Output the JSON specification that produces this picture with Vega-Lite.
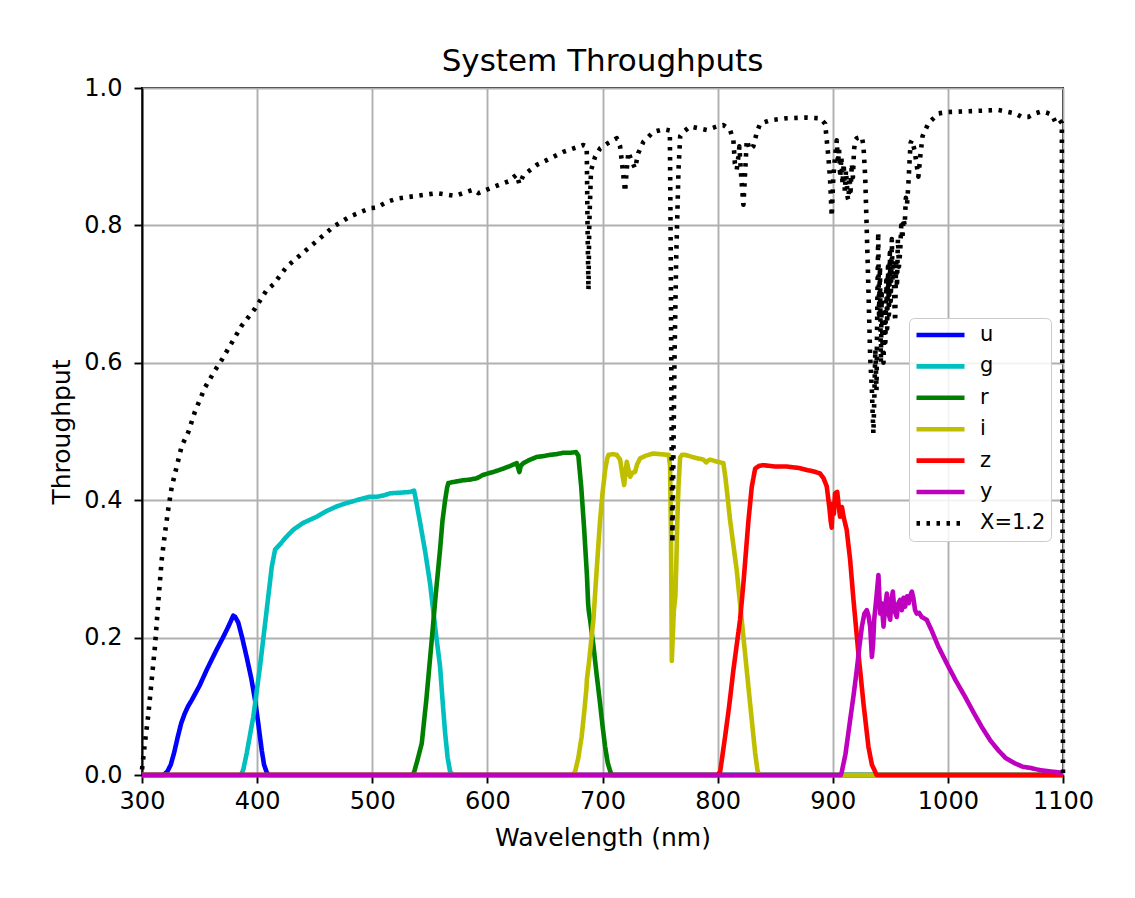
{
  "$schema": "https://vega.github.io/schema/vega-lite/v6.json",
  "width": 921,
  "height": 687,
  "autosize": {"type": "none"},
  "padding": {"left": 142, "top": 88, "right": 72, "bottom": 123},
  "background": "white",
  "title": {"text": "System Throughputs", "fontSize": 31, "font": "DejaVu Sans", "fontWeight": "normal", "color": "black", "anchor": "middle", "offset": -2},
  "config": {
    "view": {"stroke": "black", "strokeWidth": 1.9},
    "font": "DejaVu Sans",
    "axis": {
      "gridColor": "#b0b0b0", "gridWidth": 1.9, "gridOpacity": 1,
      "domainColor": "black", "domainWidth": 1.9,
      "tickColor": "black", "tickWidth": 1.9, "tickSize": 8,
      "labelFont": "DejaVu Sans", "labelFontSize": 24, "labelColor": "black", "labelFlush": false, "labelOverlap": false,
      "titleFont": "DejaVu Sans", "titleFontSize": 25, "titleFontWeight": "normal", "titleColor": "black"
    }
  },
  "data": {"values": [
    {"band":"u","wl":300,"t":0},{"band":"u","wl":318.5,"t":0},{"band":"u","wl":322,"t":0.005},{"band":"u","wl":325,"t":0.015},{"band":"u","wl":328,"t":0.033},{"band":"u","wl":331,"t":0.055},{"band":"u","wl":334,"t":0.075},{"band":"u","wl":337,"t":0.089},{"band":"u","wl":340,"t":0.1},{"band":"u","wl":343.2,"t":0.109},{"band":"u","wl":350,"t":0.13},{"band":"u","wl":356.2,"t":0.153},{"band":"u","wl":360,"t":0.166},{"band":"u","wl":365,"t":0.183},{"band":"u","wl":370.6,"t":0.201},{"band":"u","wl":375,"t":0.216},{"band":"u","wl":379.3,"t":0.232},{"band":"u","wl":381,"t":0.23},{"band":"u","wl":383.6,"t":0.222},{"band":"u","wl":387,"t":0.2},{"band":"u","wl":391,"t":0.171},{"band":"u","wl":395,"t":0.14},{"band":"u","wl":398.2,"t":0.109},{"band":"u","wl":401,"t":0.075},{"band":"u","wl":404,"t":0.036},{"band":"u","wl":406,"t":0.015},{"band":"u","wl":408.3,"t":0.004},{"band":"u","wl":410,"t":0},{"band":"u","wl":1100,"t":0},

    {"band":"g","wl":300,"t":0},{"band":"g","wl":386,"t":0},{"band":"g","wl":388,"t":0.008},{"band":"g","wl":391,"t":0.032},{"band":"g","wl":396.7,"t":0.085},{"band":"g","wl":402.5,"t":0.158},{"band":"g","wl":408.3,"t":0.24},{"band":"g","wl":412.7,"t":0.303},{"band":"g","wl":415.6,"t":0.328},{"band":"g","wl":420,"t":0.336},{"band":"g","wl":425,"t":0.346},{"band":"g","wl":431.4,"t":0.357},{"band":"g","wl":440,"t":0.367},{"band":"g","wl":451.8,"t":0.376},{"band":"g","wl":460,"t":0.384},{"band":"g","wl":469.2,"t":0.391},{"band":"g","wl":478,"t":0.396},{"band":"g","wl":486.5,"t":0.4},{"band":"g","wl":498,"t":0.405},{"band":"g","wl":504,"t":0.405},{"band":"g","wl":510,"t":0.407},{"band":"g","wl":515.5,"t":0.41},{"band":"g","wl":525,"t":0.411},{"band":"g","wl":532.8,"t":0.412},{"band":"g","wl":536.3,"t":0.414},{"band":"g","wl":538,"t":0.4},{"band":"g","wl":541.5,"t":0.368},{"band":"g","wl":546,"t":0.325},{"band":"g","wl":550.2,"t":0.279},{"band":"g","wl":555,"t":0.21},{"band":"g","wl":558.9,"t":0.158},{"band":"g","wl":561,"t":0.11},{"band":"g","wl":563.3,"t":0.061},{"band":"g","wl":565.5,"t":0.025},{"band":"g","wl":567.6,"t":0.005},{"band":"g","wl":570,"t":0},{"band":"g","wl":1100,"t":0},

    {"band":"r","wl":300,"t":0},{"band":"r","wl":535,"t":0},{"band":"r","wl":536.5,"t":0.005},{"band":"r","wl":539,"t":0.02},{"band":"r","wl":543,"t":0.046},{"band":"r","wl":547,"t":0.11},{"band":"r","wl":551.7,"t":0.197},{"band":"r","wl":555,"t":0.26},{"band":"r","wl":558.9,"t":0.328},{"band":"r","wl":561,"t":0.37},{"band":"r","wl":563.3,"t":0.4},{"band":"r","wl":565,"t":0.418},{"band":"r","wl":566.1,"t":0.425},{"band":"r","wl":572,"t":0.427},{"band":"r","wl":579,"t":0.429},{"band":"r","wl":585,"t":0.43},{"band":"r","wl":590.8,"t":0.432},{"band":"r","wl":596.5,"t":0.437},{"band":"r","wl":605,"t":0.441},{"band":"r","wl":613.9,"t":0.446},{"band":"r","wl":620,"t":0.45},{"band":"r","wl":625.5,"t":0.454},{"band":"r","wl":627.8,"t":0.441},{"band":"r","wl":629,"t":0.45},{"band":"r","wl":631.3,"t":0.454},{"band":"r","wl":637,"t":0.459},{"band":"r","wl":642.9,"t":0.463},{"band":"r","wl":648,"t":0.464},{"band":"r","wl":654.5,"t":0.466},{"band":"r","wl":660,"t":0.467},{"band":"r","wl":666,"t":0.469},{"band":"r","wl":672,"t":0.469},{"band":"r","wl":677,"t":0.47},{"band":"r","wl":679,"t":0.465},{"band":"r","wl":681.5,"t":0.42},{"band":"r","wl":684,"t":0.36},{"band":"r","wl":686.5,"t":0.29},{"band":"r","wl":687.5,"t":0.25},{"band":"r","wl":688,"t":0.24},{"band":"r","wl":689.2,"t":0.226},{"band":"r","wl":692,"t":0.19},{"band":"r","wl":695,"t":0.145},{"band":"r","wl":697.9,"t":0.104},{"band":"r","wl":700,"t":0.072},{"band":"r","wl":702.3,"t":0.041},{"band":"r","wl":704.5,"t":0.018},{"band":"r","wl":706.6,"t":0.006},{"band":"r","wl":708,"t":0},{"band":"r","wl":1100,"t":0},

    {"band":"i","wl":300,"t":0},{"band":"i","wl":674,"t":0},{"band":"i","wl":676.2,"t":0.005},{"band":"i","wl":679,"t":0.025},{"band":"i","wl":681.9,"t":0.056},{"band":"i","wl":684,"t":0.09},{"band":"i","wl":686,"t":0.125},{"band":"i","wl":686.5,"t":0.14},{"band":"i","wl":688,"t":0.16},{"band":"i","wl":692.1,"t":0.226},{"band":"i","wl":695,"t":0.3},{"band":"i","wl":697.9,"t":0.371},{"band":"i","wl":700,"t":0.41},{"band":"i","wl":702.3,"t":0.444},{"band":"i","wl":704,"t":0.46},{"band":"i","wl":705.2,"t":0.466},{"band":"i","wl":709,"t":0.467},{"band":"i","wl":712.4,"t":0.466},{"band":"i","wl":715.3,"t":0.459},{"band":"i","wl":717,"t":0.44},{"band":"i","wl":718.8,"t":0.422},{"band":"i","wl":720,"t":0.44},{"band":"i","wl":721.1,"t":0.456},{"band":"i","wl":722.5,"t":0.445},{"band":"i","wl":724,"t":0.434},{"band":"i","wl":726,"t":0.44},{"band":"i","wl":728.3,"t":0.441},{"band":"i","wl":730,"t":0.452},{"band":"i","wl":732.7,"t":0.461},{"band":"i","wl":738,"t":0.465},{"band":"i","wl":744.2,"t":0.468},{"band":"i","wl":750,"t":0.467},{"band":"i","wl":757.5,"t":0.466},{"band":"i","wl":758.7,"t":0.45},{"band":"i","wl":759.5,"t":0.35},{"band":"i","wl":760.2,"t":0.166},{"band":"i","wl":761,"t":0.2},{"band":"i","wl":762,"t":0.24},{"band":"i","wl":763.3,"t":0.26},{"band":"i","wl":764,"t":0.3},{"band":"i","wl":765,"t":0.37},{"band":"i","wl":766,"t":0.42},{"band":"i","wl":767.4,"t":0.462},{"band":"i","wl":769,"t":0.466},{"band":"i","wl":771.8,"t":0.466},{"band":"i","wl":780,"t":0.462},{"band":"i","wl":787.7,"t":0.459},{"band":"i","wl":790,"t":0.455},{"band":"i","wl":792,"t":0.458},{"band":"i","wl":793.5,"t":0.459},{"band":"i","wl":800,"t":0.456},{"band":"i","wl":805,"t":0.454},{"band":"i","wl":807,"t":0.43},{"band":"i","wl":810.8,"t":0.371},{"band":"i","wl":816.6,"t":0.298},{"band":"i","wl":822.4,"t":0.201},{"band":"i","wl":828.2,"t":0.104},{"band":"i","wl":832.6,"t":0.032},{"band":"i","wl":834.6,"t":0.007},{"band":"i","wl":836,"t":0},{"band":"i","wl":1100,"t":0},

    {"band":"z","wl":300,"t":0},{"band":"z","wl":800,"t":0},{"band":"z","wl":802.2,"t":0.005},{"band":"z","wl":806.5,"t":0.056},{"band":"z","wl":810,"t":0.1},{"band":"z","wl":813.7,"t":0.153},{"band":"z","wl":819.5,"t":0.226},{"band":"z","wl":822.4,"t":0.279},{"band":"z","wl":826.8,"t":0.371},{"band":"z","wl":829.7,"t":0.42},{"band":"z","wl":832.6,"t":0.446},{"band":"z","wl":836,"t":0.45},{"band":"z","wl":839.8,"t":0.451},{"band":"z","wl":850,"t":0.449},{"band":"z","wl":860.2,"t":0.449},{"band":"z","wl":870,"t":0.447},{"band":"z","wl":877.5,"t":0.444},{"band":"z","wl":883,"t":0.442},{"band":"z","wl":888.9,"t":0.439},{"band":"z","wl":892,"t":0.432},{"band":"z","wl":894.8,"t":0.42},{"band":"z","wl":897,"t":0.39},{"band":"z","wl":898.2,"t":0.37},{"band":"z","wl":899.1,"t":0.36},{"band":"z","wl":900,"t":0.395},{"band":"z","wl":901,"t":0.38},{"band":"z","wl":902,"t":0.41},{"band":"z","wl":903.9,"t":0.412},{"band":"z","wl":905,"t":0.395},{"band":"z","wl":906.3,"t":0.376},{"band":"z","wl":908,"t":0.39},{"band":"z","wl":909.5,"t":0.375},{"band":"z","wl":912.1,"t":0.357},{"band":"z","wl":915.1,"t":0.313},{"band":"z","wl":918,"t":0.255},{"band":"z","wl":922.3,"t":0.177},{"band":"z","wl":926.7,"t":0.104},{"band":"z","wl":931,"t":0.041},{"band":"z","wl":934,"t":0.015},{"band":"z","wl":936.8,"t":0.005},{"band":"z","wl":938,"t":0},{"band":"z","wl":1100,"t":0},

    {"band":"y","wl":300,"t":0},{"band":"y","wl":907,"t":0},{"band":"y","wl":907.9,"t":0.005},{"band":"y","wl":911,"t":0.03},{"band":"y","wl":915.1,"t":0.08},{"band":"y","wl":918,"t":0.115},{"band":"y","wl":920.9,"t":0.153},{"band":"y","wl":923,"t":0.185},{"band":"y","wl":925.3,"t":0.216},{"band":"y","wl":927.5,"t":0.235},{"band":"y","wl":929.6,"t":0.24},{"band":"y","wl":931,"t":0.232},{"band":"y","wl":932.5,"t":0.216},{"band":"y","wl":934,"t":0.172},{"band":"y","wl":935,"t":0.19},{"band":"y","wl":936,"t":0.226},{"band":"y","wl":938,"t":0.26},{"band":"y","wl":939.7,"t":0.291},{"band":"y","wl":940.5,"t":0.26},{"band":"y","wl":941.2,"t":0.235},{"band":"y","wl":942.5,"t":0.25},{"band":"y","wl":944.1,"t":0.216},{"band":"y","wl":945.5,"t":0.245},{"band":"y","wl":947,"t":0.264},{"band":"y","wl":948.5,"t":0.235},{"band":"y","wl":949.9,"t":0.226},{"band":"y","wl":951,"t":0.255},{"band":"y","wl":952.2,"t":0.267},{"band":"y","wl":953.5,"t":0.24},{"band":"y","wl":955.6,"t":0.23},{"band":"y","wl":957,"t":0.25},{"band":"y","wl":958.5,"t":0.255},{"band":"y","wl":960,"t":0.24},{"band":"y","wl":961.5,"t":0.258},{"band":"y","wl":962.9,"t":0.245},{"band":"y","wl":964.5,"t":0.26},{"band":"y","wl":966,"t":0.25},{"band":"y","wl":967.5,"t":0.262},{"band":"y","wl":968.7,"t":0.267},{"band":"y","wl":970,"t":0.258},{"band":"y","wl":971.5,"t":0.24},{"band":"y","wl":972.9,"t":0.235},{"band":"y","wl":975,"t":0.236},{"band":"y","wl":977.3,"t":0.23},{"band":"y","wl":981.6,"t":0.226},{"band":"y","wl":986,"t":0.21},{"band":"y","wl":991.7,"t":0.187},{"band":"y","wl":1000.4,"t":0.158},{"band":"y","wl":1007,"t":0.137},{"band":"y","wl":1014.9,"t":0.114},{"band":"y","wl":1022,"t":0.092},{"band":"y","wl":1029.4,"t":0.07},{"band":"y","wl":1037,"t":0.05},{"band":"y","wl":1043.8,"t":0.036},{"band":"y","wl":1050,"t":0.025},{"band":"y","wl":1058.3,"t":0.017},{"band":"y","wl":1065,"t":0.012},{"band":"y","wl":1072.8,"t":0.01},{"band":"y","wl":1080,"t":0.007},{"band":"y","wl":1090.2,"t":0.005},{"band":"y","wl":1100,"t":0.003},

    {"band":"X=1.2","wl":300,"t":0.008},{"band":"X=1.2","wl":302.6,"t":0.048},{"band":"X=1.2","wl":305.5,"t":0.088},{"band":"X=1.2","wl":308.4,"t":0.138},{"band":"X=1.2","wl":311.3,"t":0.188},{"band":"X=1.2","wl":314.2,"t":0.253},{"band":"X=1.2","wl":317.1,"t":0.313},{"band":"X=1.2","wl":320,"t":0.353},{"band":"X=1.2","wl":322.9,"t":0.388},{"band":"X=1.2","wl":325.8,"t":0.419},{"band":"X=1.2","wl":328.7,"t":0.439},{"band":"X=1.2","wl":334.5,"t":0.479},{"band":"X=1.2","wl":340.2,"t":0.499},{"band":"X=1.2","wl":346,"t":0.529},{"band":"X=1.2","wl":354.7,"t":0.564},{"band":"X=1.2","wl":363.4,"t":0.589},{"band":"X=1.2","wl":369.2,"t":0.604},{"band":"X=1.2","wl":377.9,"t":0.629},{"band":"X=1.2","wl":386.6,"t":0.654},{"band":"X=1.2","wl":398.2,"t":0.679},{"band":"X=1.2","wl":408.3,"t":0.706},{"band":"X=1.2","wl":414.1,"t":0.714},{"band":"X=1.2","wl":425.7,"t":0.74},{"band":"X=1.2","wl":446,"t":0.769},{"band":"X=1.2","wl":466.2,"t":0.798},{"band":"X=1.2","wl":480.7,"t":0.813},{"band":"X=1.2","wl":498.1,"t":0.825},{"band":"X=1.2","wl":503.9,"t":0.826},{"band":"X=1.2","wl":512.6,"t":0.834},{"band":"X=1.2","wl":521.3,"t":0.839},{"band":"X=1.2","wl":538.7,"t":0.843},{"band":"X=1.2","wl":556,"t":0.847},{"band":"X=1.2","wl":571.9,"t":0.843},{"band":"X=1.2","wl":587.8,"t":0.852},{"band":"X=1.2","wl":592.2,"t":0.847},{"band":"X=1.2","wl":602.3,"t":0.854},{"band":"X=1.2","wl":618.2,"t":0.864},{"band":"X=1.2","wl":625.5,"t":0.874},{"band":"X=1.2","wl":627.8,"t":0.86},{"band":"X=1.2","wl":631.3,"t":0.873},{"band":"X=1.2","wl":642.9,"t":0.888},{"band":"X=1.2","wl":651.6,"t":0.895},{"band":"X=1.2","wl":666,"t":0.907},{"band":"X=1.2","wl":683.4,"t":0.917},{"band":"X=1.2","wl":686.3,"t":0.915},{"band":"X=1.2","wl":687,"t":0.8},{"band":"X=1.2","wl":687.8,"t":0.706},{"band":"X=1.2","wl":688.5,"t":0.8},{"band":"X=1.2","wl":690,"t":0.88},{"band":"X=1.2","wl":693.6,"t":0.9},{"band":"X=1.2","wl":697.9,"t":0.912},{"band":"X=1.2","wl":705,"t":0.92},{"band":"X=1.2","wl":712.4,"t":0.927},{"band":"X=1.2","wl":715.3,"t":0.915},{"band":"X=1.2","wl":717,"t":0.89},{"band":"X=1.2","wl":719.6,"t":0.849},{"band":"X=1.2","wl":721,"t":0.88},{"band":"X=1.2","wl":722.5,"t":0.907},{"band":"X=1.2","wl":725,"t":0.895},{"band":"X=1.2","wl":728.3,"t":0.883},{"band":"X=1.2","wl":731,"t":0.905},{"band":"X=1.2","wl":735.6,"t":0.922},{"band":"X=1.2","wl":744.2,"t":0.936},{"band":"X=1.2","wl":752.9,"t":0.94},{"band":"X=1.2","wl":758.5,"t":0.938},{"band":"X=1.2","wl":759.3,"t":0.75},{"band":"X=1.2","wl":760,"t":0.5},{"band":"X=1.2","wl":760.7,"t":0.338},{"band":"X=1.2","wl":761.5,"t":0.45},{"band":"X=1.2","wl":762.5,"t":0.6},{"band":"X=1.2","wl":764,"t":0.75},{"band":"X=1.2","wl":766,"t":0.88},{"band":"X=1.2","wl":767.5,"t":0.93},{"band":"X=1.2","wl":770.3,"t":0.936},{"band":"X=1.2","wl":776.1,"t":0.944},{"band":"X=1.2","wl":790.6,"t":0.939},{"band":"X=1.2","wl":799.3,"t":0.944},{"band":"X=1.2","wl":805,"t":0.946},{"band":"X=1.2","wl":810.8,"t":0.939},{"band":"X=1.2","wl":813.7,"t":0.924},{"band":"X=1.2","wl":815,"t":0.89},{"band":"X=1.2","wl":816.6,"t":0.881},{"band":"X=1.2","wl":818,"t":0.9},{"band":"X=1.2","wl":818.9,"t":0.915},{"band":"X=1.2","wl":820.5,"t":0.87},{"band":"X=1.2","wl":822.4,"t":0.83},{"band":"X=1.2","wl":824,"t":0.88},{"band":"X=1.2","wl":825.3,"t":0.924},{"band":"X=1.2","wl":828,"t":0.91},{"band":"X=1.2","wl":831,"t":0.915},{"band":"X=1.2","wl":834,"t":0.935},{"band":"X=1.2","wl":836.9,"t":0.948},{"band":"X=1.2","wl":845.6,"t":0.953},{"band":"X=1.2","wl":860.1,"t":0.956},{"band":"X=1.2","wl":877.5,"t":0.957},{"band":"X=1.2","wl":889,"t":0.956},{"band":"X=1.2","wl":893.4,"t":0.948},{"band":"X=1.2","wl":894.8,"t":0.924},{"band":"X=1.2","wl":896.2,"t":0.9},{"band":"X=1.2","wl":897.7,"t":0.866},{"band":"X=1.2","wl":899.1,"t":0.813},{"band":"X=1.2","wl":900.5,"t":0.87},{"band":"X=1.2","wl":902,"t":0.9},{"band":"X=1.2","wl":903.5,"t":0.924},{"band":"X=1.2","wl":904.5,"t":0.89},{"band":"X=1.2","wl":905.5,"t":0.91},{"band":"X=1.2","wl":906.5,"t":0.87},{"band":"X=1.2","wl":907.5,"t":0.9},{"band":"X=1.2","wl":908.5,"t":0.86},{"band":"X=1.2","wl":909.5,"t":0.89},{"band":"X=1.2","wl":910.5,"t":0.85},{"band":"X=1.2","wl":911.5,"t":0.88},{"band":"X=1.2","wl":913,"t":0.84},{"band":"X=1.2","wl":913.7,"t":0.837},{"band":"X=1.2","wl":914.5,"t":0.87},{"band":"X=1.2","wl":915.5,"t":0.85},{"band":"X=1.2","wl":916.6,"t":0.89},{"band":"X=1.2","wl":917.5,"t":0.87},{"band":"X=1.2","wl":918.5,"t":0.91},{"band":"X=1.2","wl":919.5,"t":0.924},{"band":"X=1.2","wl":920.9,"t":0.927},{"band":"X=1.2","wl":925.3,"t":0.929},{"band":"X=1.2","wl":926.7,"t":0.915},{"band":"X=1.2","wl":928.2,"t":0.87},{"band":"X=1.2","wl":929.6,"t":0.79},{"band":"X=1.2","wl":931,"t":0.706},{"band":"X=1.2","wl":932.5,"t":0.609},{"band":"X=1.2","wl":934,"t":0.56},{"band":"X=1.2","wl":935.3,"t":0.497},{"band":"X=1.2","wl":936,"t":0.54},{"band":"X=1.2","wl":937,"t":0.62},{"band":"X=1.2","wl":938,"t":0.56},{"band":"X=1.2","wl":938.8,"t":0.7},{"band":"X=1.2","wl":939.5,"t":0.79},{"band":"X=1.2","wl":940.2,"t":0.67},{"band":"X=1.2","wl":941,"t":0.74},{"band":"X=1.2","wl":941.8,"t":0.6},{"band":"X=1.2","wl":942.5,"t":0.7},{"band":"X=1.2","wl":943.3,"t":0.62},{"band":"X=1.2","wl":944.1,"t":0.6},{"band":"X=1.2","wl":945,"t":0.68},{"band":"X=1.2","wl":945.7,"t":0.63},{"band":"X=1.2","wl":946.5,"t":0.72},{"band":"X=1.2","wl":947.3,"t":0.65},{"band":"X=1.2","wl":948,"t":0.74},{"band":"X=1.2","wl":948.8,"t":0.67},{"band":"X=1.2","wl":949.6,"t":0.76},{"band":"X=1.2","wl":950.4,"t":0.69},{"band":"X=1.2","wl":951.3,"t":0.78},{"band":"X=1.2","wl":952,"t":0.72},{"band":"X=1.2","wl":952.8,"t":0.75},{"band":"X=1.2","wl":953.5,"t":0.69},{"band":"X=1.2","wl":954.2,"t":0.66},{"band":"X=1.2","wl":955,"t":0.75},{"band":"X=1.2","wl":955.8,"t":0.71},{"band":"X=1.2","wl":956.6,"t":0.78},{"band":"X=1.2","wl":957.5,"t":0.74},{"band":"X=1.2","wl":958.5,"t":0.76},{"band":"X=1.2","wl":959.5,"t":0.8},{"band":"X=1.2","wl":960.5,"t":0.78},{"band":"X=1.2","wl":961.4,"t":0.81},{"band":"X=1.2","wl":962.5,"t":0.8},{"band":"X=1.2","wl":963.5,"t":0.84},{"band":"X=1.2","wl":964.5,"t":0.83},{"band":"X=1.2","wl":965.7,"t":0.86},{"band":"X=1.2","wl":966.6,"t":0.89},{"band":"X=1.2","wl":967.6,"t":0.92},{"band":"X=1.2","wl":968.7,"t":0.924},{"band":"X=1.2","wl":971,"t":0.91},{"band":"X=1.2","wl":974.4,"t":0.871},{"band":"X=1.2","wl":976,"t":0.9},{"band":"X=1.2","wl":978,"t":0.93},{"band":"X=1.2","wl":983.2,"t":0.949},{"band":"X=1.2","wl":991.9,"t":0.963},{"band":"X=1.2","wl":1000,"t":0.965},{"band":"X=1.2","wl":1015.1,"t":0.966},{"band":"X=1.2","wl":1030,"t":0.967},{"band":"X=1.2","wl":1043.9,"t":0.968},{"band":"X=1.2","wl":1050,"t":0.966},{"band":"X=1.2","wl":1058.4,"t":0.963},{"band":"X=1.2","wl":1064,"t":0.958},{"band":"X=1.2","wl":1070,"t":0.958},{"band":"X=1.2","wl":1076,"t":0.963},{"band":"X=1.2","wl":1081.6,"t":0.966},{"band":"X=1.2","wl":1086,"t":0.964},{"band":"X=1.2","wl":1090.3,"t":0.961},{"band":"X=1.2","wl":1093.2,"t":0.951},{"band":"X=1.2","wl":1096,"t":0.955},{"band":"X=1.2","wl":1099,"t":0.949},{"band":"X=1.2","wl":1100,"t":0}
  ]},
  "mark": {"type": "line", "strokeCap": "butt", "strokeJoin": "round"},
  "encoding": {
    "x": {"field": "wl", "type": "quantitative", "title": "Wavelength (nm)",
      "scale": {"domain": [300, 1100], "nice": false, "zero": false},
      "axis": {"values": [300, 400, 500, 600, 700, 800, 900, 1000, 1100], "format": "d", "labelPadding": 6, "titlePadding": 12, "grid": true}},
    "y": {"field": "t", "type": "quantitative", "title": "Throughput",
      "scale": {"domain": [0, 1], "nice": false},
      "axis": {"values": [0, 0.2, 0.4, 0.6, 0.8, 1.0], "format": ".1f", "labelPadding": 12, "titlePadding": 9, "grid": true}},
    "color": {"field": "band", "type": "nominal", "title": null,
      "scale": {"domain": ["u", "g", "r", "i", "z", "y", "X=1.2"], "range": ["#0000ff", "#00bfbf", "#008000", "#bfbf00", "#ff0000", "#bf00bf", "#000000"]},
      "legend": {"orient": "none", "legendX": 767, "legendY": 230, "title": null,
        "fillColor": "rgba(255,255,255,0.85)", "strokeColor": "#cccccc", "cornerRadius": 5, "padding": 5,
        "symbolType": "stroke", "symbolSize": 2304, "symbolStrokeWidth": 4.5, "clipHeight": 24,
        "labelFont": "DejaVu Sans", "labelFontSize": 21, "labelColor": "black", "labelOffset": 13, "rowPadding": 7.4}},
    "strokeDash": {"field": "band", "type": "nominal", "title": null,
      "scale": {"domain": ["u", "g", "r", "i", "z", "y", "X=1.2"], "range": [[1, 0], [1, 0], [1, 0], [1, 0], [1, 0], [1, 0], [3.5, 6.5]]},
      "legend": {"orient": "none", "legendX": 767, "legendY": 230, "title": null,
        "fillColor": "rgba(255,255,255,0.85)", "strokeColor": "#cccccc", "cornerRadius": 5, "padding": 5,
        "symbolType": "stroke", "symbolSize": 2304, "symbolStrokeWidth": 4.5, "clipHeight": 24,
        "labelFont": "DejaVu Sans", "labelFontSize": 21, "labelColor": "black", "labelOffset": 13, "rowPadding": 7.4}},
    "strokeWidth": {"field": "band", "type": "ordinal", "legend": null,
      "scale": {"domain": ["u", "g", "r", "i", "z", "y", "X=1.2"], "range": [4.6, 4.6, 4.6, 4.6, 4.6, 4.6, 3.5]}}
  }
}
